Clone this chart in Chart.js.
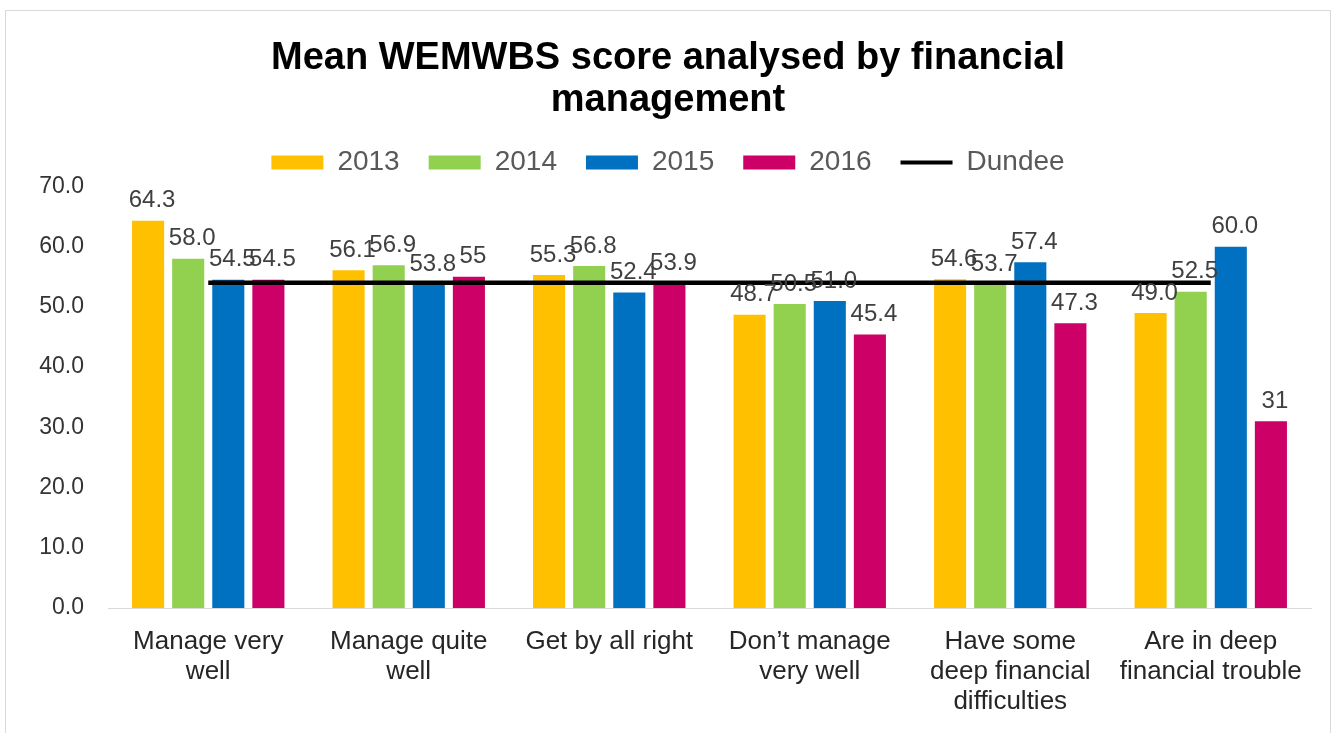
<!DOCTYPE html>
<html>
<head>
<meta charset="utf-8">
<script src="https://cdn.jsdelivr.net/npm/chart.js@4.4.1/dist/chart.umd.min.js"></script>
<style>
    html, body { margin: 0; padding: 0; background: #fff; overflow: hidden; }
    #frame {
        position: absolute; left: 5px; top: 10px;
        width: 1326px; height: 760px;
        box-sizing: border-box;
        border: 1px solid #d9d9d9;
        background: #fff;
    }
    #holder { position: relative; width: 1324px; height: 740px; }
</style>
</head>
<body>
<div id="frame"><div id="holder"><canvas id="chart"></canvas></div></div>
<script>
// categories and printed values (strings keep the label format, e.g. "58.0" vs "55")
const categories = [
    ["Manage very", "well"],
    ["Manage quite", "well"],
    ["Get by all right"],
    ["Don’t manage", "very well"],
    ["Have some", "deep financial", "difficulties"],
    ["Are in deep", "financial trouble"]
];
const years = ["2013", "2014", "2015", "2016"];
const scores2013 = ["64.3", "56.1", "55.3", "48.7", "54.6", "49.0"];
const scores2014 = ["58.0", "56.9", "56.8", "50.5", "53.7", "52.5"];
const scores2015 = ["54.5", "53.8", "52.4", "51.0", "57.4", "60.0"];
const scores2016 = ["54.5", "55", "53.9", "45.4", "47.3", "31"];
const dundee = [54.0, 54.0, 54.0, 54.0, 54.0, 54.0];
const yTicks = [0, 10, 20, 30, 40, 50, 60, 70];

const colours = ["#FFC000", "#92D050", "#0070C0", "#CC0066"];
const FONT = '"Liberation Sans", Arial, sans-serif';

const seriesText = [scores2013, scores2014, scores2015, scores2016];

let barSets = seriesText.map((arr, i) => ({
    type: "bar",
    label: years[i],
    data: arr.map(Number),
    valueText: arr,
    backgroundColor: colours[i],
    borderWidth: 0,
    categoryPercentage: 0.8,
    barPercentage: 0.8
}));

let dundeeSet = {
    type: "line",
    label: "Dundee",
    data: dundee,
    borderColor: "#000000",
    backgroundColor: "#000000",
    borderWidth: 4.5,
    pointRadius: 0,
    fill: false,
    order: -1
};

// value labels above each bar
const valueLabels = {
    id: "valueLabels",
    afterDatasetsDraw(chart) {
        let ctx = chart.ctx;
        ctx.save();
        ctx.font = "24px " + FONT;
        ctx.fillStyle = "#404040";
        ctx.textAlign = "center";
        ctx.textBaseline = "bottom";
        chart.data.datasets.forEach((ds, i) => {
            if (ds.type !== "bar") return;
            chart.getDatasetMeta(i).data.forEach((bar, j) => {
                ctx.fillText(ds.valueText[j], bar.x + 4, bar.y - 8);
            });
        });
        ctx.restore();
    }
};

let myChart = new Chart(document.getElementById("chart").getContext("2d"), {
    data: {
        labels: categories,
        datasets: [...barSets, dundeeSet]
    },
    plugins: [valueLabels],
    options: {
        responsive: true,
        maintainAspectRatio: false,
        animation: false,
        layout: { padding: { left: 19, right: 19, top: 0, bottom: 0 } },
        plugins: {
            tooltip: { enabled: false },
            title: {
                display: true,
                text: ["Mean WEMWBS score analysed by financial", "management"],
                color: "#000000",
                font: { family: FONT, size: 38, weight: "bold", lineHeight: 1.105 },
                padding: { top: 27, bottom: 18.5 }
            },
            legend: {
                position: "top",
                labels: {
                    usePointStyle: true,
                    pointStyleWidth: 52,
                    boxHeight: 14,
                    padding: 8,
                    color: "#595959",
                    font: { family: FONT, size: 28 },
                    sort: (a, b) => a.datasetIndex - b.datasetIndex,
                    generateLabels(chart) {
                        let items = Chart.defaults.plugins.legend.labels.generateLabels(chart);
                        items.forEach(it => {
                            let ds = chart.data.datasets[it.datasetIndex];
                            if (ds.type === "line") {
                                it.pointStyle = "line";
                                it.strokeStyle = ds.borderColor;
                                it.lineWidth = 4;
                            } else {
                                it.pointStyle = "rect";
                                it.lineWidth = 0;
                                it.text = it.text + "\u2002\u2005";
                            }
                        });
                        return items;
                    }
                }
            }
        },
        scales: {
            x: {
                grid: { display: false, drawTicks: false },
                border: { display: true, color: "#d9d9d9", width: 1 },
                ticks: {
                    color: "#262626",
                    font: { family: FONT, size: 26, lineHeight: 1.15 },
                    padding: 19,
                    maxRotation: 0,
                    autoSkip: false
                },
                afterFit(scale) { scale.height = 143; }
            },
            y: {
                min: 0,
                max: 70,
                grid: { display: false, drawTicks: false },
                border: { display: false },
                afterBuildTicks(scale) { scale.ticks = yTicks.map(v => ({ value: v })); },
                ticks: {
                    color: "#333333",
                    font: { family: FONT, size: 23 },
                    padding: 24,
                    callback: v => Number(v).toFixed(1)
                },
                afterFit(scale) { scale.width = 83; }
            }
        }
    }
});
</script>
</body>
</html>
